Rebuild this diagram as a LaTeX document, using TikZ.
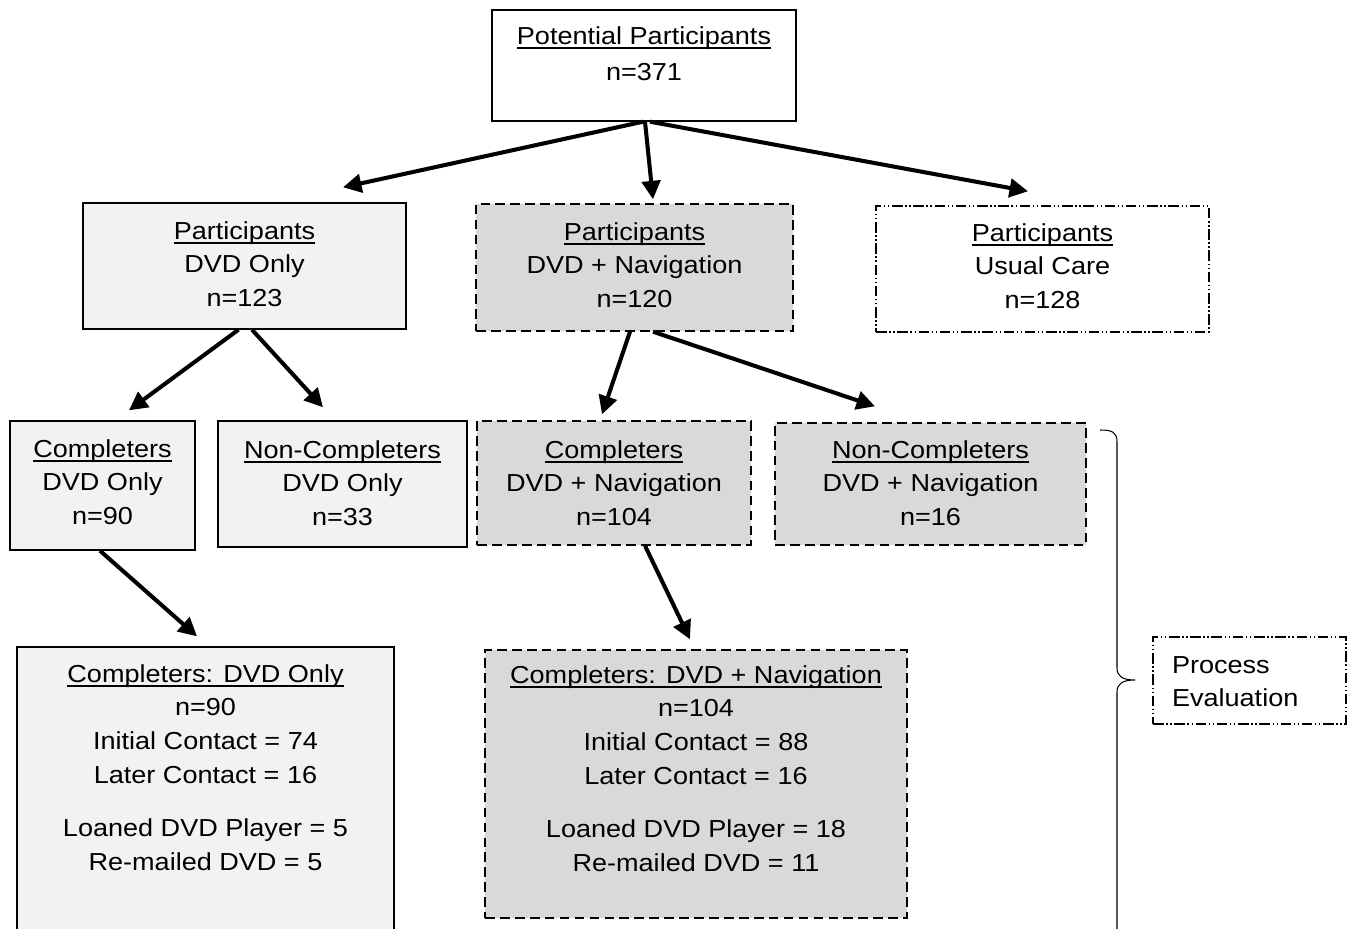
\documentclass[tikz,border=0pt]{standalone}
\usepackage{fontspec}
\setmainfont{Liberation Sans}[FakeStretch=1.1]
\usetikzlibrary{arrows.meta,calc}

\definecolor{boxlight}{HTML}{F2F2F2}
\definecolor{boxgray}{HTML}{D9D9D9}

% underlined heading line, box text at fixed size
\newcommand{\hd}[1]{\setbox0\hbox{#1}\rlap{\rule[-2.6pt]{\wd0}{0.9pt}}\box0}
\newcommand{\boxtext}[4]{\parbox[c][#2][t]{#1}{\centering\rule{0pt}{#3}#4\par}}

\tikzset{
  plain/.style={draw, line width=0.8pt, inner sep=0pt, font=\fontsize{14}{19.3}\selectfont},
  light/.style={plain, fill=boxlight},
  navbox/.style={plain, fill=boxgray, dash pattern=on 5.5pt off 3pt},
  dotbox/.style={plain, dash pattern=on 6pt off 1.5pt on 0.8pt off 1.5pt on 0.8pt off 1.5pt},
  arr/.style={line width=2.3pt, -{Triangle[length=10.5pt,width=10.5pt]}},
}

\begin{document}
\begin{tikzpicture}[x=0.02cm,y=-0.02cm]
\useasboundingbox (0,0) rectangle (1355,929);

\node[plain] (pot) at (644,65.5) {\boxtext{6.08cm}{2.22cm}{0.68cm}{\hd{Potential Participants}\\[1.5pt]n=371}};

\node[light] (dvd) at (244.5,266) {\boxtext{6.46cm}{2.52cm}{0.72cm}{\hd{Participants}\\DVD Only\\n=123}};
\node[navbox] (nav) at (634.5,267.5) {\boxtext{6.34cm}{2.54cm}{0.72cm}{\hd{Participants}\\DVD + Navigation\\n=120}};
\node[dotbox] (care) at (1042.5,269) {\boxtext{6.66cm}{2.52cm}{0.70cm}{\hd{Participants}\\Usual Care\\n=128}};

\node[light] (cdvd) at (102.5,485.5) {\boxtext{3.70cm}{2.58cm}{0.72cm}{\hd{Completers}\\DVD Only\\n=90}};
\node[light] (ncdvd) at (342.5,484) {\boxtext{4.98cm}{2.52cm}{0.74cm}{\hd{Non-Completers}\\DVD Only\\n=33}};
\node[navbox] (cnav) at (614,483) {\boxtext{5.48cm}{2.48cm}{0.74cm}{\hd{Completers}\\DVD + Navigation\\n=104}};
\node[navbox] (ncnav) at (930.5,484) {\boxtext{6.22cm}{2.44cm}{0.70cm}{\hd{Non-Completers}\\DVD + Navigation\\n=16}};

\node[light] (fdvd) at (205.5,796) {\boxtext{7.54cm}{5.96cm}{0.70cm}{\hd{Completers: DVD Only}\\n=90\\Initial Contact = 74\\Later Contact = 16\\[11pt]Loaned DVD Player = 5\\Re-mailed DVD = 5}};
\node[navbox] (fnav) at (696,784) {\boxtext{8.44cm}{5.36cm}{0.66cm}{\hd{Completers: DVD + Navigation}\\n=104\\Initial Contact = 88\\Later Contact = 16\\[11pt]Loaned DVD Player = 18\\Re-mailed DVD = 11}};

\node[dotbox] (proc) at (1249.5,680.5) {\parbox[c][1.74cm][t]{3.86cm}{\raggedright\leftskip=0.38cm\rule{0pt}{0.72cm}Process\\Evaluation\par}};

% arrows
\draw[arr] ($(pot.south)+(-1,0)$) -- ($(dvd.north)+(98.5,-15)$);
\draw[arr] ($(pot.south)+(1,0)$) -- ($(nav.north)+(18.5,-4)$);
\draw[arr] ($(pot.south)+(6,0)$) -- ($(care.north)+(-14.5,-14)$);
\draw[arr] ($(dvd.south)+(-6,0)$) -- ($(cdvd.north)+(26.5,-10)$);
\draw[arr] ($(dvd.south)+(7.5,0)$) -- ($(ncdvd.north)+(-19.5,-13)$);
\draw[arr] ($(nav.south)+(-4.5,0)$) -- ($(cnav.north)+(-12,-6)$);
\draw[arr] ($(nav.south)+(18.5,0)$) -- ($(ncnav.north)+(-55.5,-16)$);
\draw[arr] ($(cdvd.south)+(-2.5,0)$) -- ($(fdvd.north)+(-8.5,-10)$);
\draw[arr] ($(cnav.south)+(31,0)$) -- ($(fnav.north)+(-6,-10)$);

% brace
\coordinate (tip) at (1135,680);
\draw[line width=0.6pt] (1100,430) .. controls (1112,430) and (1117,432) .. (1117,442) -- (1117,668)
  .. controls (1117,676) and (1122,680) .. (tip)
  .. controls (1122,680) and (1117,684) .. (1117,692) -- (1117,945);
\end{tikzpicture}
\end{document}
